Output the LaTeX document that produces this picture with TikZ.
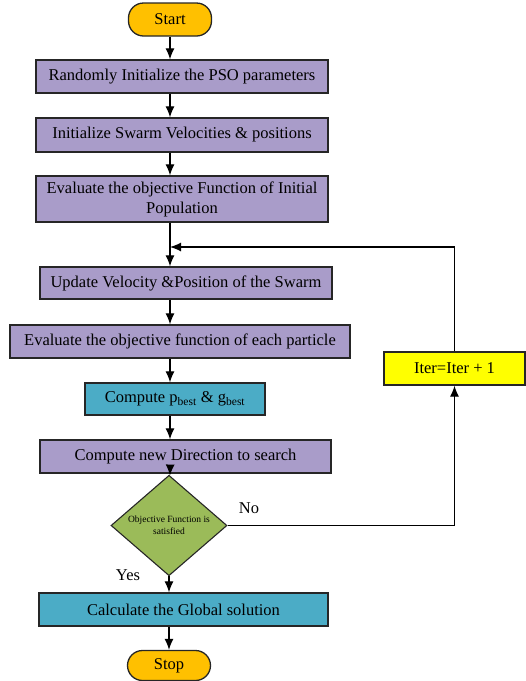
\documentclass[tikz,border=0pt]{standalone}
\usepackage{fontspec}
\setmainfont{Liberation Serif}
\usetikzlibrary{arrows.meta,shapes.geometric}
\definecolor{procfill}{HTML}{A99CC9}
\definecolor{calcfill}{HTML}{4BACC6}
\definecolor{termfill}{HTML}{FFC000}
\definecolor{testfill}{HTML}{9BBB59}
\definecolor{iterfill}{HTML}{FFFF00}
\begin{document}
\begin{tikzpicture}[x=1pt,y=-1pt,
  font=\fontsize{16.5}{20}\selectfont,
  box/.style={draw=black!85,line width=1.3pt,fill=procfill,
    minimum height=33pt,inner sep=0pt,align=center},
  calcbox/.style={box,fill=calcfill},
  term/.style={box,fill=termfill,rounded corners=15pt},
  test/.style={diamond,draw=black!85,line width=1.1pt,fill=testfill,
    minimum width=116pt,minimum height=69pt,inner sep=0pt,align=center,
    font=\fontsize{9.5}{12}\selectfont},
  arr/.style={line width=1.2pt,-{Latex[length=11pt,width=9pt]}}]
  \useasboundingbox (0,0) rectangle (526,681);

  \node[term,minimum width=83pt] (start) at (170,19.5) {Start};
  \node[box,minimum width=292pt] (init) at (182,76.5)
    {Randomly Initialize the PSO parameters};
  \node[box,minimum width=292pt,minimum height=34pt] (swarm) at (182,135)
    {Initialize Swarm Velocities \& positions};
  \node[box,minimum width=292pt,minimum height=46pt] (evalinit) at (182,199)
    {Evaluate the objective Function of Initial\\Population};
  \node[box,minimum width=292pt,minimum height=32pt] (update) at (186,283)
    {Update Velocity \&Position of the Swarm};
  \node[box,minimum width=340pt] (evalpart) at (180,341.5)
    {Evaluate the objective function of each particle};
  \node[calcbox,minimum width=180pt,minimum height=32pt] (best) at (175,399)
    {Compute p\textsubscript{best} \& g\textsubscript{best}};
  \node[box,minimum width=291pt] (direction) at (185.5,456.5)
    {Compute new Direction to search};
  \node[test] (check) at (169,525.5) {Objective Function is\\satisfied};
  \node[calcbox,minimum width=289pt] (global) at (183.5,609.5)
    {Calculate the Global solution};
  \node[term,minimum width=83pt,minimum height=30pt] (stop) at (169,665.5) {Stop};
  \node[box,fill=iterfill,minimum width=141pt] (iter) at (454.5,368.5)
    {Iter=Iter + 1};

  \node (no) at (249,508) {No};
  \node (yes) at (128,575) {Yes};
  \coordinate (join) at (170,247);

  % main line
  \draw[arr] (start) -- (start |- init.north);
  \draw[arr] (init.south -| start) -- (start |- swarm.north);
  \draw[arr] (swarm.south -| start) -- (start |- evalinit.north);
  \draw[arr] (evalinit.south -| start) -- (start |- update.north);
  \draw[arr] (update.south -| start) -- (start |- evalpart.north);
  \draw[arr] (evalpart.south -| start) -- (start |- best.north);
  \draw[arr] (best.south -| start) -- (start |- direction.north);
  \draw[arr] (direction.south -| start) -- (check);
  \draw[arr] (check) -- (check |- global.north);
  \draw[arr] (global.south -| check) -- (stop);

  % loop back
  \draw[arr] (check.east) -| (iter.south);
  \draw[arr] (iter.north) |- (join);
\end{tikzpicture}
\end{document}
